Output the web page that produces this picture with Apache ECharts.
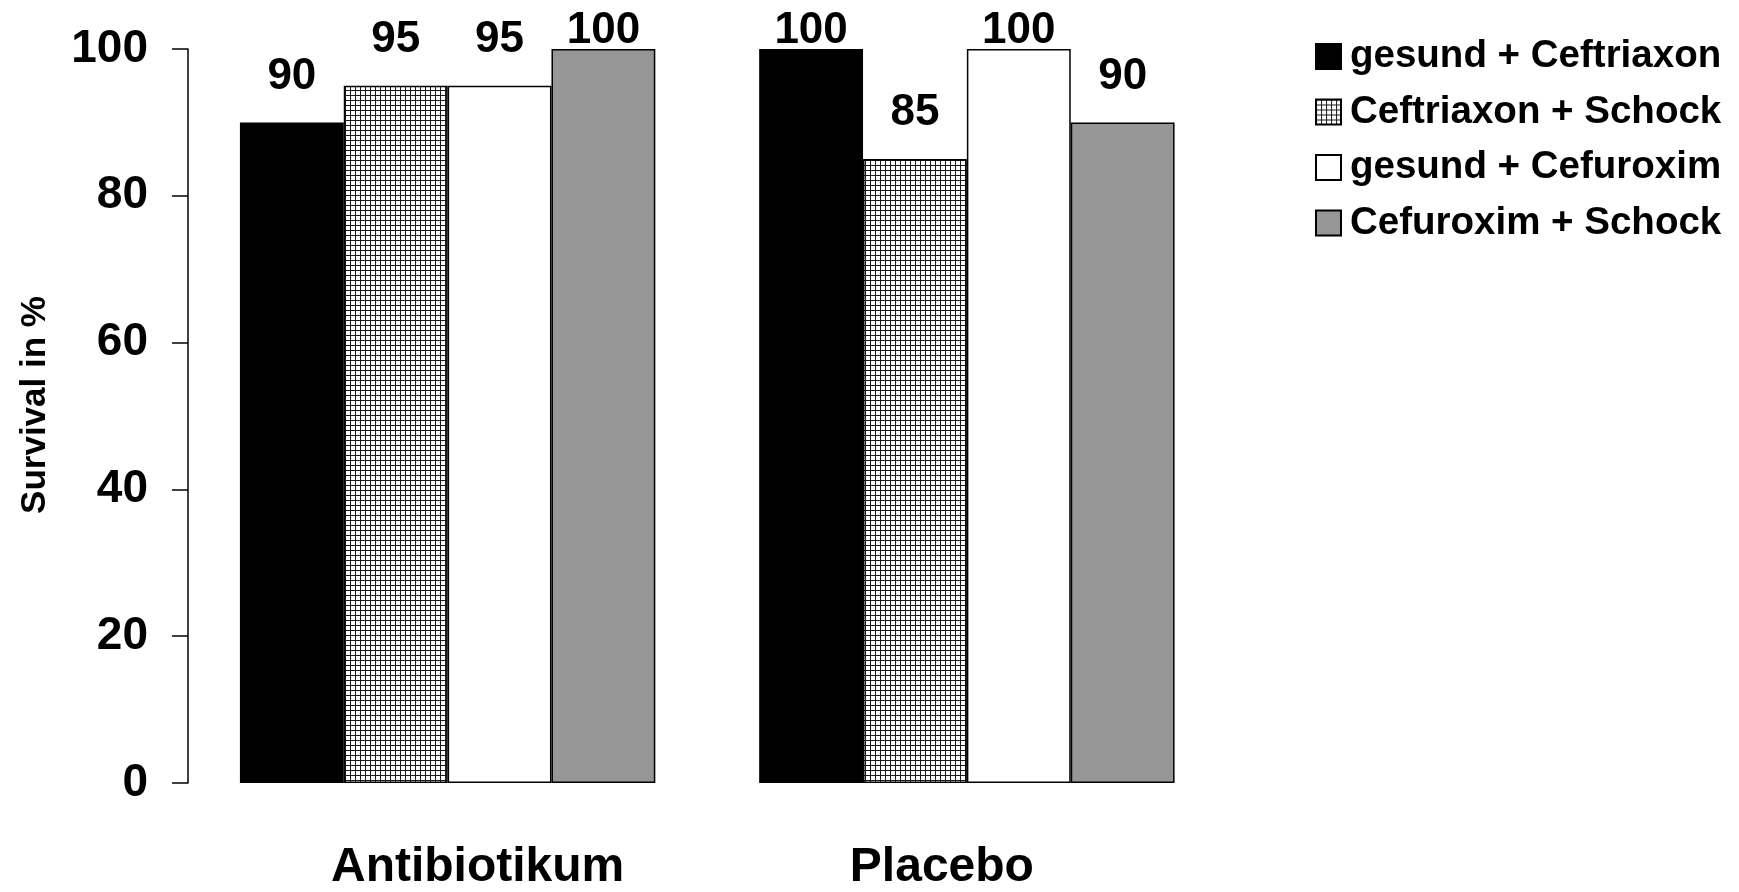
<!DOCTYPE html>
<html>
<head>
<meta charset="utf-8">
<title>Survival in %</title>
<script src="https://cdn.jsdelivr.net/npm/echarts@6/dist/echarts.min.js"></script>
<style>
  html, body { margin: 0; padding: 0; background: #fff; }
  #chart { width: 1739px; height: 892px; }
</style>
</head>
<body>
<div id="chart"></div>
<script>
// Groups on the x axis
const categories = ['Antibiotikum', 'Placebo'];

// Survival (%) per treatment group
const gesundCeftriaxon = [90, 100];
const ceftriaxonSchock = [95, 85];
const gesundCefuroxim = [95, 100];
const cefuroximSchock = [100, 90];

const seriesNames = [
  'gesund + Ceftriaxon',
  'Ceftriaxon + Schock',
  'gesund + Cefuroxim',
  'Cefuroxim + Schock'
];

// Y axis ticks
const yMin = 0;
const yMax = 100;
const yStep = 20;

// Fine cross-hatch fill used for the "Ceftriaxon + Schock" bars
function makeGridPattern() {
  const c = document.createElement('canvas');
  c.width = 5;
  c.height = 5;
  const g = c.getContext('2d');
  g.fillStyle = '#ffffff';
  g.fillRect(0, 0, 5, 5);
  g.fillStyle = '#1a1a1a';
  g.fillRect(0, 0, 5, 1);
  g.fillRect(0, 0, 1, 5);
  return c;
}

const fills = [
  '#000000',
  { image: makeGridPattern(), repeat: 'repeat' },
  '#ffffff',
  '#969696'
];

const FONT = '"Liberation Sans", Arial, sans-serif';

// Value labels: bars reaching the top of the scale carry their label snug on top
function toData(values) {
  return values.map(v => ({
    value: v,
    label: { distance: v >= yMax ? -4 : 24 }
  }));
}

const valueSets = [gesundCeftriaxon, ceftriaxonSchock, gesundCefuroxim, cefuroximSchock];

const series = valueSets.map((vals, i) => ({
  name: seriesNames[i],
  type: 'bar',
  data: toData(vals),
  barGap: '0%',
  barCategoryGap: '20%',
  itemStyle: {
    color: fills[i],
    borderColor: '#000',
    borderWidth: 1.5
  },
  label: {
    show: true,
    position: 'top',
    color: '#000',
    fontFamily: FONT,
    fontWeight: 'bold',
    fontSize: 44
  },
  emphasis: { disabled: true }
}));

// Category labels sit a little inward from the group centres
const categoryPadding = [[0, 0, 0, 60], [0, 50, 0, 0]];
const categoryData = categories.map((c, i) => ({
  value: c,
  textStyle: { padding: categoryPadding[i] }
}));

const chart = echarts.init(document.getElementById('chart'), null, { renderer: 'canvas' });

chart.setOption({
  backgroundColor: '#ffffff',
  animation: false,
  grid: {
    left: 188,
    right: 512.5,
    top: 49,
    bottom: 108,
    containLabel: false
  },
  legend: {
    orient: 'vertical',
    left: 1315,
    top: 37,
    padding: 0,
    itemWidth: 25,
    itemHeight: 25,
    itemGap: 16.5,
    icon: 'rect',
    selectedMode: false,
    data: seriesNames,
    textStyle: {
      color: '#000',
      fontFamily: FONT,
      fontWeight: 'bold',
      fontSize: 38.5,
      padding: [0, 0, 0, 4]
    }
  },
  xAxis: {
    type: 'category',
    data: categoryData,
    axisLine: { show: false },
    axisTick: { show: false },
    axisLabel: {
      color: '#000',
      fontFamily: FONT,
      fontWeight: 'bold',
      fontSize: 48,
      margin: 61
    }
  },
  yAxis: {
    type: 'value',
    min: yMin,
    max: yMax,
    interval: yStep,
    name: 'Survival in %',
    nameLocation: 'middle',
    nameGap: 135,
    nameTextStyle: {
      color: '#000',
      fontFamily: FONT,
      fontWeight: 'bold',
      fontSize: 35,
      padding: [0, 0, 0, 22]
    },
    axisLine: { show: true, lineStyle: { color: '#000', width: 1.5 } },
    axisTick: { show: true, inside: false, length: 16, lineStyle: { color: '#000', width: 1.5 } },
    splitLine: { show: false },
    axisLabel: {
      color: '#000',
      fontFamily: FONT,
      fontWeight: 'bold',
      fontSize: 46,
      margin: 40
    }
  },
  series: series
});
</script>
</body>
</html>
